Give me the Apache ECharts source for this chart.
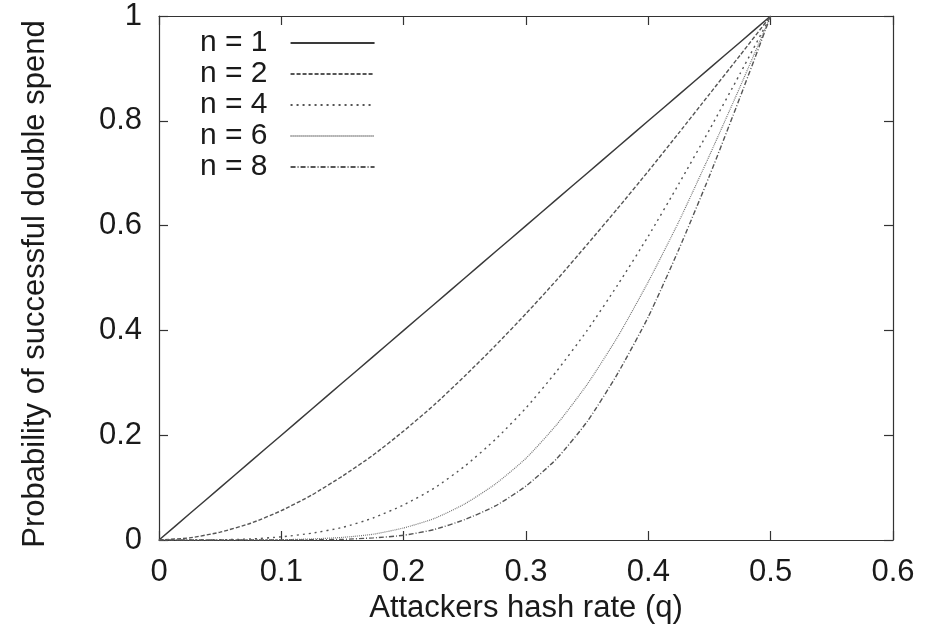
<!DOCTYPE html>
<html>
<head>
<meta charset="utf-8">
<script src="https://cdn.jsdelivr.net/npm/echarts@6/dist/echarts.min.js"></script>
<style>
  html, body { margin: 0; background: #fff; }
  #chart { width: 926px; height: 638px; }
</style>
</head>
<body>
<div id="chart"></div>
<script>
// attacker hash rate q (x) and probability of successful double spend (y)
const hashRate = [0, 0.025, 0.05, 0.075, 0.1, 0.125, 0.15, 0.175, 0.2, 0.225, 0.25,
  0.275, 0.3, 0.325, 0.35, 0.375, 0.4, 0.425, 0.45, 0.475, 0.5];
const n1 = [0, 0.05, 0.1, 0.15, 0.2, 0.25, 0.3, 0.35, 0.4, 0.45, 0.5,
  0.55, 0.6, 0.65, 0.7, 0.75, 0.8, 0.85, 0.9, 0.95, 1];
const n2 = [0, 0.004, 0.015, 0.032, 0.056, 0.086, 0.122, 0.162, 0.208, 0.258, 0.313,
  0.371, 0.432, 0.496, 0.564, 0.633, 0.704, 0.777, 0.851, 0.925, 1];
const n4 = [0, 0, 0.0004, 0.002, 0.006, 0.013, 0.024, 0.042, 0.067, 0.099, 0.141,
  0.192, 0.252, 0.322, 0.4, 0.487, 0.58, 0.68, 0.783, 0.89, 1];
const n6 = [0, 0, 0, 0.0001, 0.0006, 0.002, 0.005, 0.011, 0.023, 0.041, 0.069,
  0.107, 0.156, 0.22, 0.297, 0.388, 0.493, 0.608, 0.734, 0.865, 1];
const n8 = [0, 0, 0, 0, 0.0001, 0.0004, 0.0012, 0.004, 0.009, 0.02, 0.039,
  0.065, 0.103, 0.155, 0.226, 0.318, 0.426, 0.555, 0.695, 0.845, 1];
const seriesNames = ['n = 1', 'n = 2', 'n = 4', 'n = 6', 'n = 8'];

const font = 'Liberation Sans, Arial, sans-serif';
const ink = '#1a1a1a';
const frame = '#333';
const pairs = vals => hashRate.map((q, i) => [q, vals[i]]);

const chart = echarts.init(document.getElementById('chart'));

const boxAxis = {
  type: 'value',
  axisLine: {show: true, onZero: false, lineStyle: {color: frame, width: 1.2}},
  axisTick: {show: true, inside: true, length: 9, lineStyle: {color: frame, width: 1.2}},
  splitLine: {show: false}
};
const labelStyle = {fontFamily: font, fontSize: 31, color: ink};

chart.setOption({
  animation: false,
  grid: {left: 159, right: 33, top: 16, bottom: 98},
  legend: {
    orient: 'vertical',
    left: 195,
    top: 23,
    align: 'right',
    itemWidth: 84,
    itemHeight: 14,
    itemGap: 1,
    textStyle: {fontFamily: font, fontSize: 30, color: ink, lineHeight: 24, padding: [0, 18, 0, 0]},
    itemStyle: {opacity: 0},
    data: seriesNames
  },
  xAxis: [
    {
      ...boxAxis, min: 0, max: 0.6, interval: 0.1, position: 'bottom',
      axisLabel: {...labelStyle, margin: 17},
      name: 'Attackers hash rate (q)', nameLocation: 'middle', nameGap: 47,
      nameTextStyle: labelStyle
    },
    {...boxAxis, min: 0, max: 0.6, interval: 0.1, position: 'top', axisLabel: {show: false}}
  ],
  yAxis: [
    {
      ...boxAxis, min: 0, max: 1, interval: 0.2, position: 'left',
      axisLabel: {...labelStyle, margin: 17},
      name: 'Probability of successful double spend', nameLocation: 'middle', nameGap: 108,
      nameTextStyle: {...labelStyle, padding: [0, 12, 0, 0]}
    },
    {...boxAxis, min: 0, max: 1, interval: 0.2, position: 'right', axisLabel: {show: false}}
  ],
  series: [
    {name: seriesNames[0], data: pairs(n1), lineStyle: {type: 'solid', color: '#3a3a3a', width: 1.5}},
    {name: seriesNames[1], data: pairs(n2), lineStyle: {type: [4, 2], color: '#555', width: 1.4}},
    {name: seriesNames[2], data: pairs(n4), lineStyle: {type: [2, 4], color: '#555', width: 1.4}},
    {name: seriesNames[3], data: pairs(n6), lineStyle: {type: [1, 1], color: '#777', width: 1.2}},
    {name: seriesNames[4], data: pairs(n8), lineStyle: {type: [5, 2, 1, 2], color: '#555', width: 1.4}}
  ].map(s => ({
    ...s,
    type: 'line',
    symbol: 'none',
    smooth: 0.2,
    itemStyle: {color: s.lineStyle.color}
  }))
});
</script>
</body>
</html>
